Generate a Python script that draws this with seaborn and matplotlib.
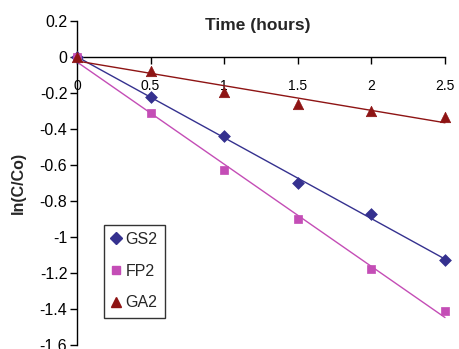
import numpy as np
import pandas as pd
import matplotlib
matplotlib.use("Agg")
import matplotlib.pyplot as plt
import seaborn as sns
from matplotlib.lines import Line2D

time_h = [0, 0.5, 1.0, 1.5, 2.0, 2.5]
gs2 = [0.0, -0.225, -0.44, -0.70, -0.875, -1.13]
fp2 = [0.0, -0.31, -0.63, -0.90, -1.18, -1.41]
ga2 = [0.0, -0.08, -0.195, -0.26, -0.30, -0.335]
series_names = ["GS2", "FP2", "GA2"]
colors = ["#35318F", "#C44DB6", "#8E1414"]
markers = ["D", "s", "^"]
msizes = [6.0, 6.0, 7.5]
x_ticks = [0, 0.5, 1, 1.5, 2, 2.5]
x_ticklabels = ["0", "0.5", "1", "1.5", "2", "2.5"]
y_ticks = [0.2, 0, -0.2, -0.4, -0.6, -0.8, -1.0, -1.2, -1.4, -1.6]
y_ticklabels = ["0.2", "0", "-0.2", "-0.4", "-0.6", "-0.8", "-1", "-1.2", "-1.4", "-1.6"]

sns.set_style("white")
plt.rcParams["font.family"] = ["Liberation Sans", "DejaVu Sans"]
FS = 11.5

fig = plt.figure(figsize=(4.59, 3.49), dpi=100)
ax = fig.add_axes([77 / 459, 1 - 345 / 349, (445 - 77) / 459, (345 - 20.7) / 349])

data = {"GS2": gs2, "FP2": fp2, "GA2": ga2}
handles = []
for name, col, mk, ms in zip(series_names, colors, markers, msizes):
    df = pd.DataFrame({"t": time_h, "v": data[name]})
    sns.regplot(data=df, x="t", y="v", ax=ax, scatter=False, ci=None, truncate=True,
                color=col, line_kws={"linewidth": 1.0, "clip_on": False, "zorder": 2})
    sns.scatterplot(data=df, x="t", y="v", ax=ax, marker=mk, color=col, s=ms ** 2,
                    edgecolor=col, linewidth=0.5, clip_on=False, zorder=3, legend=False)
    handles.append(Line2D([], [], linestyle="none", marker=mk, color=col,
                          markersize=ms * 0.95, markeredgecolor=col, label=name))

ax.set_xlim(0, 2.5)
ax.set_ylim(-1.6, 0.2)
ax.set_xticks(x_ticks)
ax.set_xticklabels(x_ticklabels, fontsize=FS)
ax.set_yticks(y_ticks)
ax.set_yticklabels(y_ticklabels, fontsize=FS)
ax.set_xlabel("")
ax.set_ylabel("ln(C/Co)", fontsize=FS, fontweight="bold", labelpad=10)

for s in ["top", "right"]:
    ax.spines[s].set_visible(False)
ax.spines["bottom"].set_position(("data", 0))
for s in ["left", "bottom"]:
    ax.spines[s].set_color("black")
    ax.spines[s].set_linewidth(1.0)
ax.tick_params(axis="both", which="major", direction="out", length=5, width=1.0,
               color="black", labelcolor="black", pad=2,
               bottom=True, left=True)
ax.tick_params(axis="x", pad=11)

ax.text(0.49, 0.985, "Time (hours)", transform=ax.transAxes, ha="center", va="center",
        fontsize=12.5, fontweight="bold")

leg = ax.legend(handles=handles, loc="upper left", bbox_to_anchor=(0.0734, 0.371),
                borderaxespad=0, frameon=True, fancybox=False, fontsize=FS,
                handlelength=0.6, handletextpad=0.3, labelspacing=1.05,
                borderpad=0.45)
leg.get_frame().set_edgecolor("black")
leg.get_frame().set_linewidth(1.0)

fig.savefig("out.png", dpi=100)
